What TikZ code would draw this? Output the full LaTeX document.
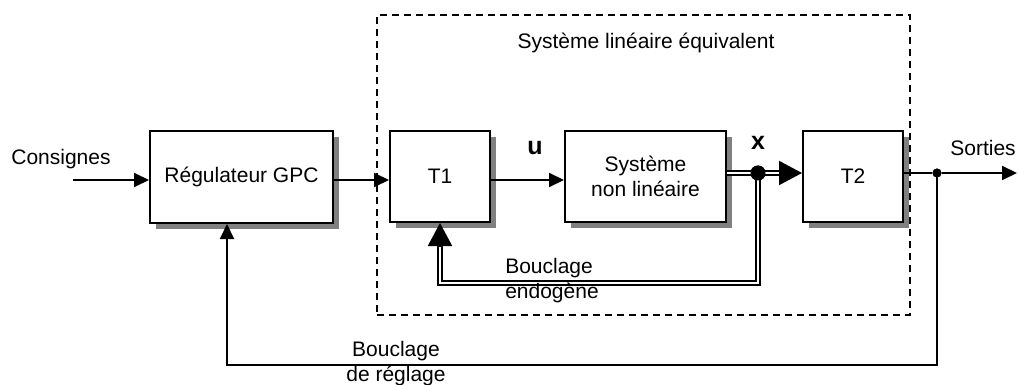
\documentclass[tikz,border=0pt]{standalone}
\usepackage{fontspec}
\setmainfont{Liberation Sans}
\usetikzlibrary{arrows.meta,shadows}
\begin{document}
\begin{tikzpicture}[x=1pt,y=-1pt,
  every node/.style={font=\fontsize{21}{25}\selectfont, inner sep=0pt},
  blk/.style={draw, line width=2pt, fill=white, rectangle, align=center,
    drop shadow={shadow xshift=6pt,shadow yshift=-6pt,fill=black!50,opacity=1}},
  ln/.style={line width=2pt},
  arr/.style={ln, -{Triangle[length=15pt,width=14pt]}},
  bigarr/.style={ln, -{Triangle[length=23pt,width=24pt]}},
  dbl/.style={line width=2pt, double=white, double distance=2pt},
  sig/.style={font=\fontsize{25}{29}\selectfont\bfseries},
  dot/.style={circle, fill=black, draw=none},
  zone/.style={draw, line width=2pt, dash pattern=on 7pt off 5pt, rectangle},
]
\useasboundingbox (0,0) rectangle (1018,385);

% dashed zone
\node[zone, minimum width=533pt, minimum height=300pt] (lin) at (643.5,165) {};
\node (linlbl) at (646,43) {Système linéaire équivalent};

% blocks
\node[blk, minimum width=183pt, minimum height=92pt] (reg) at (241.5,177) {Régulateur GPC};
\node[blk, minimum width=100pt, minimum height=91pt] (T1) at (440,176.5) {T1};
\node[blk, minimum width=161pt, minimum height=91pt] (sys) at (645.5,176.5) {Système\\non linéaire};
\node[blk, minimum width=100pt, minimum height=91pt] (T2) at (853,176.5) {T2};

% coordinates
\coordinate (cin) at (73,180);
\node[dot, minimum size=15pt] (xd) at (758,173) {};
\node[dot, minimum size=9pt] (sd) at (937,173) {};
\coordinate (sout) at (1017,173);
\coordinate (xbase) at (781,173);
\coordinate (lb1) at (758,283);
\coordinate (lb2) at (440,283);
\coordinate (lb3) at (440,245);
\coordinate (fb1) at (937,365);
\coordinate (fb2) at (227,365);

% forward path
\draw[arr] (cin) -- (cin -| reg.west);
\draw[arr] (reg.east |- cin) -- (T1.west |- cin);
\draw[arr] (T1.east |- cin) -- (sys.west |- cin);

% double lines
\draw[dbl] (sys.east |- xd) -- (xbase);
\draw[dbl] (xd.center) -- (lb1) -- (lb2) -- (lb3);
\draw[bigarr] (779,173) -- (T2.west |- xd);
\draw[bigarr] (440,247) -- (T1.south);
\node[dot, minimum size=15pt] at (xd) {};

% output
\draw[ln] (T2.east |- sd) -- (sd);
\draw[arr] (sd) -- (sout);
\draw[arr] (sd.center) -- (fb1) -- (fb2) -- (fb2 |- reg.south);
\node[dot, minimum size=9pt] at (sd) {};

% labels
\node (cons) at (61,159) {Consignes};
\node (sort) at (983,148) {Sorties};
\node[sig] (u) at (535,148) {u};
\node[sig] (x) at (758,143) {x};
\node[align=left] (bend) at (552,281) {Bouclage\\endogène};
\node[align=center] (breg) at (396,364) {Bouclage\\de réglage};
\end{tikzpicture}
\end{document}
